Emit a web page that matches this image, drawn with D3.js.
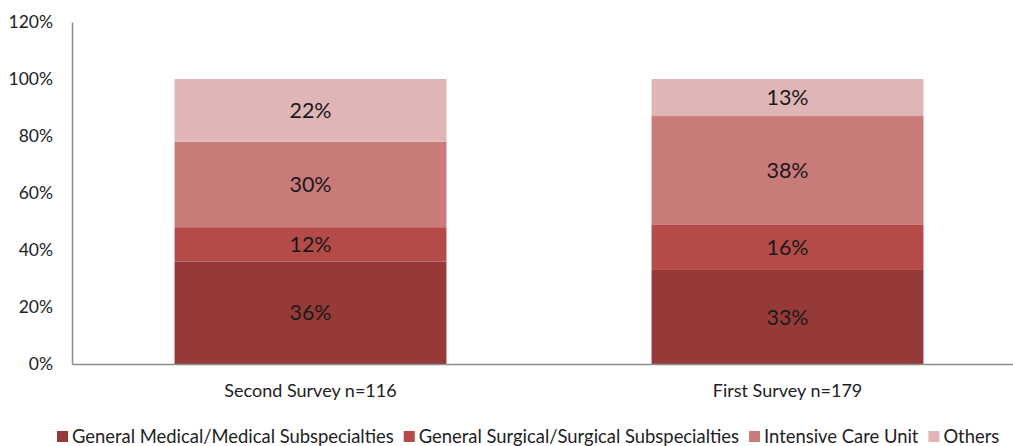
<!DOCTYPE html>
<html><head><meta charset="utf-8">
<script src="https://cdn.jsdelivr.net/npm/d3@7"></script>
<style>body{margin:0;background:#fff}svg{display:block}text{font-family:Lato,"Open Sans",sans-serif}</style>
</head><body><svg id="c" width="1013" height="446"></svg>
<script>
const categories = ["Second Survey n=116", "First Survey n=179"];
const seriesNames = ["General Medical/Medical Subspecialties", "General Surgical/Surgical Subspecialties", "Intensive Care Unit", "Others"];
const medical = [36, 33];
const surgical = [12, 16];
const icu = [30, 38];
const others = [22, 13];
const yTicks = [0, 20, 40, 60, 80, 100, 120];
const colors = ["#953a38", "#b54b49", "#c97b7a", "#e0b5b5"];

(function () {
const seriesValues = [medical, surgical, icu, others];
const rows = categories.map((c, i) => {
  const r = {cat: c};
  seriesNames.forEach((s, j) => r[s] = seriesValues[j][i]);
  return r;
});
const stack = d3.stack().keys(seriesNames)(rows);

const svg = d3.select("#c");
const mLeft = 72, mRight = 1026, mTop = 22, mBottom = 364;
const x = d3.scaleBand().domain(categories).range([mLeft, mRight]).paddingInner(0.43).paddingOuter(0.215);
const y = d3.scaleLinear().domain([0, 120]).range([mBottom, mTop]);

svg.append("g").selectAll("g").data(stack).join("g")
  .attr("fill", (d, i) => colors[i])
  .selectAll("rect").data(d => d).join("rect")
  .attr("x", d => x(d.data.cat))
  .attr("width", x.bandwidth())
  .attr("y", d => y(d[1]))
  .attr("height", d => y(d[0]) - y(d[1]));

svg.append("g").selectAll("g").data(stack).join("g")
  .selectAll("text").data(d => d).join("text")
  .attr("x", d => x(d.data.cat) + x.bandwidth() / 2)
  .attr("y", d => (y(d[0]) + y(d[1])) / 2)
  .attr("dy", "0.35em")
  .attr("text-anchor", "middle")
  .attr("font-size", 21.5)
  .attr("fill", "#1a1a1a")
  .text(d => (d[1] - d[0]) + "%");

const ya = svg.append("g").attr("transform", `translate(${mLeft},0)`)
  .call(d3.axisLeft(y).tickValues(yTicks).tickFormat(d => d + "%").tickSize(0).tickPadding(19));
ya.select(".domain").attr("stroke", "#8c8c8c").attr("stroke-width", 1.5);
ya.selectAll("text").attr("font-size", 17.5).attr("fill", "#222").style("font-family", "Lato,'Open Sans',sans-serif");

const xa = svg.append("g").attr("transform", `translate(0,${mBottom})`)
  .call(d3.axisBottom(x).tickSize(0).tickPadding(20));
xa.select(".domain").attr("stroke", "#8c8c8c").attr("stroke-width", 1.5);
xa.selectAll("text").attr("font-size", 18).attr("fill", "#222").style("font-family", "Lato,'Open Sans',sans-serif");

const lg = svg.append("g").attr("transform", "translate(57,437)");
const items = seriesNames.map((s, i) => {
  const g = lg.append("g");
  g.append("rect").attr("x", 0).attr("y", -6).attr("width", 11).attr("height", 11).attr("fill", colors[i]);
  const t = g.append("text").attr("x", 15).attr("y", 0).attr("dy", "0.35em").attr("font-size", 16).attr("fill", "#222").text(s);
  return {g, t};
});
const target = 943, gap = 10;
const measure = () => items.reduce((a, it) => a + 15 + it.t.node().getComputedTextLength(), 0) + gap * (items.length - 1);
const w0 = measure();
const fs = 16 * (target - (15 * items.length + gap * (items.length - 1))) / (w0 - (15 * items.length + gap * (items.length - 1)));
items.forEach(it => it.t.attr("font-size", fs));
let cx = 0;
items.forEach(it => {
  it.g.attr("transform", `translate(${cx},0)`);
  cx += 15 + it.t.node().getComputedTextLength() + gap;
});
})();
</script></body></html>
